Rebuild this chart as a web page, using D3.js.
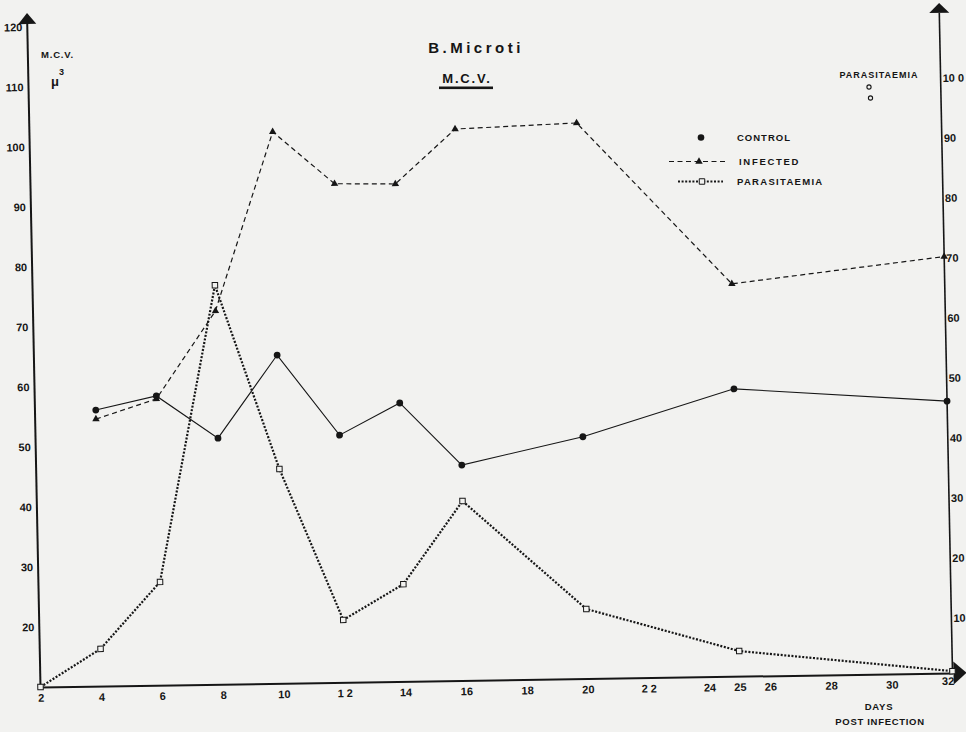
<!DOCTYPE html>
<html>
<head>
<meta charset="utf-8">
<script src="https://cdn.jsdelivr.net/npm/d3@7"></script>
<style>
  body { margin: 0; background: #f2f2f0; }
  svg { display: block; }
  text { font-family: "Liberation Sans", Arial, sans-serif; font-weight: bold; fill: #151515; }
</style>
</head>
<body>
<svg id="chart" width="966" height="732"></svg>
<script>
// ---- data -------------------------------------------------------------
const days = [4, 6, 8, 10, 12, 14, 16, 20, 25, 32];
const controlMCV = [56.0, 58.2, 51.0, 64.7, 51.2, 56.4, 45.9, 50.3, 57.9, 55.3];
const infectedMCV = [54.5, 57.7, 72.2, 101.9, 93.1, 92.9, 101.9, 102.6, 75.4, 79.4];
const parasiteDays = [2, 4, 6, 8, 10, 12, 14, 16, 20, 25, 32];
const parasitaemia = [0, 6.2, 17.2, 66.5, 35.7, 10.4, 16.2, 29.9, 11.6, 4.2, 0.3];

const dayTicks = [2, 4, 6, 8, 10, 12, 14, 16, 18, 20, 22, 24, 25, 26, 28, 30, 32];
const dayTickLabels = ["2", "4", "6", "8", "10", "1 2", "14", "16", "18", "20", "2 2", "24", "25", "26", "28", "30", "32"];
const mcvTicks = [20, 30, 40, 50, 60, 70, 80, 90, 100, 110, 120];
const parTicks = [10, 20, 30, 40, 50, 60, 70, 80, 90, 100];
const parTickLabels = ["10", "20", "30", "40", "50", "60", "70", "80", "90", "10 0"];
const seriesNames = ["CONTROL", "INFECTED", "PARASITAEMIA"];

// ---- setup ------------------------------------------------------------
const ink = "#161616";
const paper = "#f2f2f0";
const svg = d3.select("#chart");

// hand-drawn sheet: the axes are slightly skewed, so the plot lives in a sheared frame
const plot = svg.append("g")
  .attr("transform", "matrix(1,-0.0154,0.02,1,40.5,687)");

const W = 912, H = 660;
const x = d3.scaleLinear().domain([2, 32]).range([0, W]);
const yL = d3.scaleLinear().domain([10, 120]).range([0, -H]);
const yR = d3.scaleLinear().domain([0, 110]).range([0, -H]);

// ---- axes -------------------------------------------------------------
function styleAxis(g, size) {
  g.attr("font-family", null).attr("font-size", null);
  g.select(".domain").attr("stroke", ink).attr("stroke-width", 2);
  g.selectAll("text").attr("font-size", size).style("fill", ink);
}

const xAxis = plot.append("g")
  .call(d3.axisBottom(x).tickValues(dayTicks)
    .tickFormat((d, i) => dayTickLabels[i]).tickSize(0).tickSizeOuter(0).tickPadding(7));
styleAxis(xAxis, 11);
// last label sits just left of the arrow head
xAxis.selectAll(".tick text").filter(d => d === 32).attr("dx", -5).attr("dy", "0.45em");

const leftAxis = plot.append("g")
  .call(d3.axisLeft(yL).tickValues(mcvTicks).tickSize(0).tickSizeOuter(0).tickPadding(5));
styleAxis(leftAxis, 11);
leftAxis.select(".domain").attr("d", `M0,0V${-H - 4}`);

const rightAxis = plot.append("g")
  .attr("transform", `translate(${x(32)},0)`)
  .call(d3.axisRight(yR).tickValues(parTicks)
    .tickFormat((d, i) => parTickLabels[i]).tickSize(0).tickSizeOuter(0).tickPadding(2));
styleAxis(rightAxis, 11);
rightAxis.select(".domain").attr("stroke-width", 1.6).attr("d", `M0,0V${-H}`);
rightAxis.selectAll("text").attr("transform", "translate(0,5)");

// arrow heads
plot.append("path").attr("fill", ink)
  .attr("d", `M-9,${-H - 3}L9,${-H - 3}L0,${-H - 14}Z`);
plot.append("path").attr("fill", ink)
  .attr("transform", `translate(${x(32)},0)`)
  .attr("d", `M-10,${-H}L10,${-H}L0,${-H - 10}Z`);
plot.append("path").attr("fill", ink)
  .attr("d", `M${W + 1},-11.5L${W + 1},11.5L${W + 14},0Z`);

// ---- series -----------------------------------------------------------
const lineL = d3.line().x(d => x(d[0])).y(d => yL(d[1]));
const lineR = d3.line().x(d => x(d[0])).y(d => yR(d[1]));

const controlPts = days.map((d, i) => [d, controlMCV[i]]);
const infectedPts = days.map((d, i) => [d, infectedMCV[i]]);
const parPts = parasiteDays.map((d, i) => [d, parasitaemia[i]]);

plot.append("path").datum(parPts).attr("d", lineR)
  .attr("fill", "none").attr("stroke", ink).attr("stroke-width", 2.2)
  .attr("stroke-dasharray", "2,1.6");
plot.append("path").datum(infectedPts).attr("d", lineL)
  .attr("fill", "none").attr("stroke", ink).attr("stroke-width", 1.2)
  .attr("stroke-dasharray", "5,3.5");
plot.append("path").datum(controlPts).attr("d", lineL)
  .attr("fill", "none").attr("stroke", ink).attr("stroke-width", 1.1);

const tri = d3.symbol().type(d3.symbolTriangle).size(24);
const sq = d3.symbol().type(d3.symbolSquare).size(30);

plot.selectAll(".par").data(parPts).join("path")
  .attr("transform", d => `translate(${x(d[0])},${yR(d[1])})`)
  .attr("d", sq).attr("fill", paper).attr("stroke", ink).attr("stroke-width", 1);
plot.selectAll(".inf").data(infectedPts).join("path")
  .attr("transform", d => `translate(${x(d[0])},${yL(d[1])})`)
  .attr("d", tri).attr("fill", ink);
plot.selectAll(".ctl").data(controlPts).join("circle")
  .attr("cx", d => x(d[0])).attr("cy", d => yL(d[1])).attr("r", 3.4).attr("fill", ink);

// ---- titles and labels ------------------------------------------------
function label(txt, cx, cy, size, spacing, anchor) {
  return svg.append("text").attr("x", cx).attr("y", cy).attr("dy", "0.36em")
    .attr("text-anchor", anchor || "middle").attr("font-size", size)
    .attr("letter-spacing", spacing).text(txt);
}

label("B.Microti", 476, 48, 15, 3.5);
label("M.C.V.", 467, 78, 13, 1.8);
svg.append("rect").attr("x", 439).attr("y", 86.5).attr("width", 54).attr("height", 2.6).attr("fill", ink);

label("M.C.V.", 41, 55, 9.5, 0.8, "start");
svg.append("text").attr("x", 51).attr("y", 86).attr("font-size", 13)
  .attr("font-weight", "normal").text("μ");
svg.append("text").attr("x", 59).attr("y", 75).attr("font-size", 9)
  .attr("font-weight", "normal").text("3");

label("PARASITAEMIA", 879, 75, 9, 1);
svg.append("circle").attr("cx", 869).attr("cy", 87).attr("r", 2.1)
  .attr("fill", "none").attr("stroke", ink).attr("stroke-width", 1.1);
svg.append("circle").attr("cx", 870.5).attr("cy", 98).attr("r", 2.1)
  .attr("fill", "none").attr("stroke", ink).attr("stroke-width", 1.1);

label("DAYS", 879, 707, 9.5, 0.8);
label("POST INFECTION", 880, 722, 9.5, 0.7);

// ---- legend -----------------------------------------------------------
const legend = svg.append("g");
const legY = [137.5, 161.5, 181.5];
const legSpacing = [1, 1.7, 1.3];
const legTextX = [737, 739, 737];

legend.append("circle").attr("cx", 701).attr("cy", legY[0]).attr("r", 3.3).attr("fill", ink);
legend.append("line").attr("x1", 669).attr("x2", 726).attr("y1", legY[1]).attr("y2", legY[1])
  .attr("stroke", ink).attr("stroke-width", 1.2).attr("stroke-dasharray", "5,3.5");
legend.append("path").attr("transform", `translate(699,${legY[1]})`).attr("d", tri).attr("fill", ink);
legend.append("line").attr("x1", 678).attr("x2", 723).attr("y1", legY[2]).attr("y2", legY[2])
  .attr("stroke", ink).attr("stroke-width", 2.2).attr("stroke-dasharray", "2,1.6");
legend.append("path").attr("transform", `translate(702,${legY[2]})`).attr("d", sq)
  .attr("fill", paper).attr("stroke", ink).attr("stroke-width", 1);

seriesNames.forEach((name, i) => {
  legend.append("text").attr("x", legTextX[i]).attr("y", legY[i]).attr("dy", "0.36em")
    .attr("font-size", 9.5).attr("letter-spacing", legSpacing[i]).text(name);
});
</script>
</body>
</html>
